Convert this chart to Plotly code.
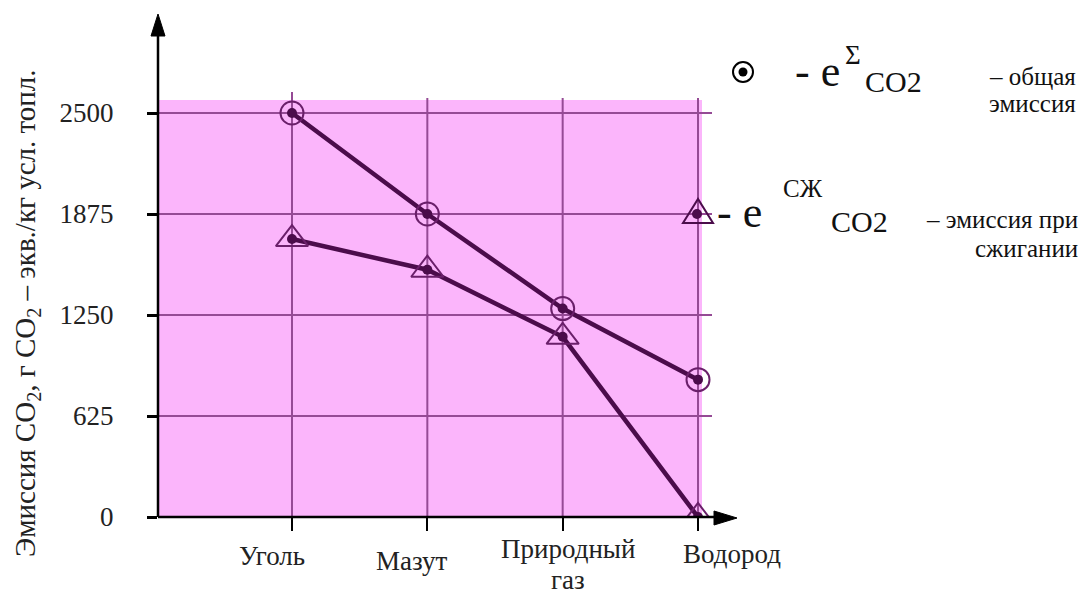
import plotly.graph_objects as go

# ---- data ----
categories = ["Уголь", "Мазут", "Природный газ", "Водород"]
category_labels = ["Уголь", "Мазут", "Природный<br>газ", "Водород"]
total_emission = [2500, 1875, 1290, 850]        # e^Σ CO2 – общая эмиссия
combustion_emission = [1720, 1530, 1115, 0]     # e^СЖ CO2 – эмиссия при сжигании
y_ticks = [0, 625, 1250, 1875, 2500]
y_tick_labels = ["0", "625", "1250", "1875", "2500"]

# ---- geometry helpers (reference pixel -> paper) ----
OFF = 8                      # page body margin
W, H = 1086 - OFF, 597 - OFF
L, R, T, B = 158, 735, 15, 517


def PX(x):
    return (x - L) / (R - L)


def PY(y):
    return (B - y) / (B - T)


# category index 0 at px 292, index 3 at px 698
step = (698 - 292) / 3
x_range = [(L - 292) / step, (R - 292) / step]
y_range = [0, 2500 * (B - T) / (B - 113)]

PINK = "#fbb5fb"
GRID = "#954a95"
LINE = "#4b0c4b"
MARK = "#6a1f6a"
FONT = "Times New Roman, Liberation Serif, DejaVu Serif, serif"

fig = go.Figure()

for vals in (total_emission, combustion_emission):
    fig.add_trace(go.Scatter(x=categories, y=vals, mode="lines",
                             line=dict(color=LINE, width=4.5), showlegend=False,
                             hoverinfo="skip"))

fig.add_trace(go.Scatter(x=categories, y=total_emission, mode="markers",
                         marker=dict(symbol="circle-open", size=23, color=MARK,
                                     line=dict(width=2, color=MARK)),
                         showlegend=False, name="общая эмиссия"))
fig.add_trace(go.Scatter(x=categories, y=combustion_emission, mode="markers",
                         marker=dict(symbol="triangle-up-open", size=28, color=MARK,
                                     line=dict(width=2, color=MARK)),
                         showlegend=False, name="эмиссия при сжигании"))
for vals in (total_emission, combustion_emission):
    fig.add_trace(go.Scatter(x=categories, y=vals, mode="markers",
                             marker=dict(symbol="circle", size=10, color=LINE),
                             showlegend=False, hoverinfo="skip"))

shapes = []
# pink background
shapes.append(dict(type="rect", xref="paper", yref="paper", x0=0, x1=PX(702),
                   y0=0, y1=PY(100), fillcolor=PINK, line=dict(width=0), layer="below"))
# horizontal grid lines
for v in y_ticks[1:]:
    shapes.append(dict(type="line", xref="paper", yref="y", x0=PX(150), x1=PX(712),
                       y0=v, y1=v, line=dict(color=GRID, width=2), layer="below"))
# vertical grid lines
for i, c in enumerate(categories):
    shapes.append(dict(type="line", xref="x", yref="paper", x0=c, x1=c,
                       y0=0, y1=PY(92 if i == 0 else 98),
                       line=dict(color=GRID, width=2), layer="below"))


def path_of(points):
    return "M " + " L ".join("{} {}".format(PX(a), PY(b)) for a, b in points) + " Z"


# axes with arrow heads
shapes.append(dict(type="line", xref="paper", yref="paper", x0=0, x1=0,
                   y0=0, y1=PY(30), line=dict(color="black", width=2.5)))
shapes.append(dict(type="path", xref="paper", yref="paper",
                   path=path_of([(151, 36), (165, 36), (158, 14)]),
                   fillcolor="black", line=dict(color="black", width=1)))
shapes.append(dict(type="line", xref="paper", yref="paper", x0=0, x1=PX(722),
                   y0=0, y1=0, line=dict(color="black", width=2.5)))
shapes.append(dict(type="path", xref="paper", yref="paper",
                   path=path_of([(714, 511), (714, 525), (737, 518)]),
                   fillcolor="black", line=dict(color="black", width=1)))

# legend icon: circle with dot
shapes.append(dict(type="circle", xref="paper", yref="paper",
                   x0=PX(733), x1=PX(753), y0=PY(82), y1=PY(62),
                   line=dict(color="black", width=2)))
shapes.append(dict(type="circle", xref="paper", yref="paper",
                   x0=PX(738.5), x1=PX(747.5), y0=PY(76.5), y1=PY(67.5),
                   fillcolor="black", line=dict(width=0)))
# legend icon: triangle with dot
shapes.append(dict(type="path", xref="paper", yref="paper",
                   path=path_of([(683, 223), (713, 223), (698, 199)]),
                   line=dict(color=LINE, width=2)))
shapes.append(dict(type="circle", xref="paper", yref="paper",
                   x0=PX(692), x1=PX(702), y0=PY(219), y1=PY(209),
                   fillcolor=LINE, line=dict(width=0)))

annotations = []
# x category labels (each line placed separately for tight line spacing)
x_shift = [-20, -15, 5, 34]
y_pos = [556, 561, 549, 554]
for c, lab, dx, yp in zip(categories, category_labels, x_shift, y_pos):
    for k, line_text in enumerate(lab.split("<br>")):
        annotations.append(dict(xref="x", yref="paper", x=c, y=PY(yp + 31 * k), xshift=dx,
                                text=line_text, showarrow=False, xanchor="center",
                                yanchor="middle",
                                font=dict(family=FONT, size=27, color="#222")))
# y axis title
annotations.append(dict(xref="paper", yref="paper", x=PX(27), y=PY(313),
                        text="Эмиссия CO<sub>2</sub>, г CO<sub>2</sub> – экв./кг усл. топл.",
                        textangle=-90, showarrow=False, xanchor="center", yanchor="middle",
                        font=dict(family=FONT, size=29, color="#222")))


def txt(x, y, s, size, anchor="left"):
    annotations.append(dict(xref="paper", yref="paper", x=PX(x), y=PY(y), text=s,
                            showarrow=False, xanchor=anchor, yanchor="middle",
                            font=dict(family=FONT, size=size, color="#111")))


# legend text line 1
txt(793, 71, "- e", 44)
txt(843, 55, "Σ", 27)
txt(863, 81, "CO2", 30)
txt(1078, 76, "– общая", 25, "right")
txt(1078, 104, "эмиссия", 25, "right")
# legend text line 2
txt(715, 212, "- e", 44)
txt(781, 188, "СЖ", 25)
txt(829, 222, "CO2", 30)
txt(1080, 219, "– эмиссия при", 25, "right")
txt(1080, 248, "сжигании", 25, "right")

fig.update_layout(
    width=W, height=H,
    margin=dict(l=L - OFF, r=W - (R - OFF), t=T - OFF, b=H - (B - OFF), pad=0),
    paper_bgcolor="white", plot_bgcolor="rgba(0,0,0,0)",
    showlegend=False,
    shapes=shapes, annotations=annotations,
    xaxis=dict(type="category", range=x_range, showgrid=False, zeroline=False,
               showline=False, ticks="outside", ticklen=13, tickwidth=2,
               tickcolor="black", showticklabels=False, fixedrange=True),
    yaxis=dict(range=y_range, tickvals=y_ticks, ticktext=y_tick_labels,
               showgrid=False, zeroline=False, showline=False, ticks="outside",
               ticklen=10, tickwidth=2.5, tickcolor="black", ticklabelstandoff=28,
               tickfont=dict(family=FONT, size=27, color="#222"), fixedrange=True),
)

fig.write_html("out.html")
